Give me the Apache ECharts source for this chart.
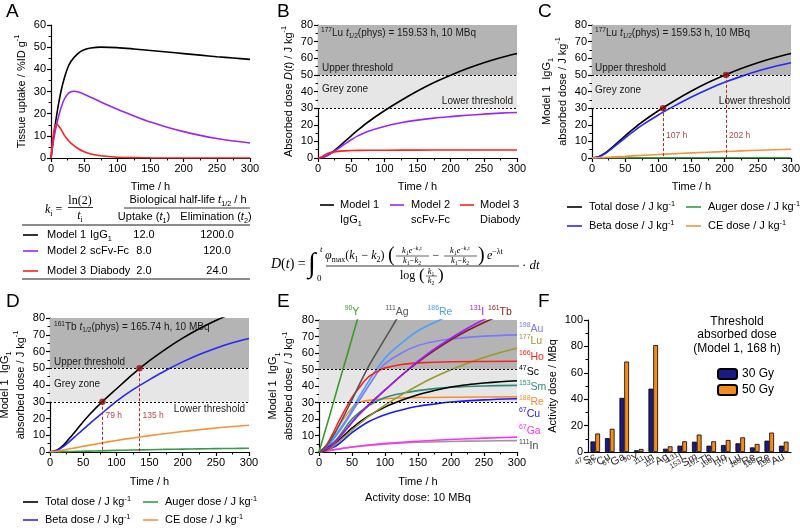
<!DOCTYPE html>
<html><head><meta charset="utf-8">
<script src="https://cdn.jsdelivr.net/npm/echarts@6/dist/echarts.min.js"></script>
<style>html,body{margin:0;padding:0;background:#fff}#c{width:800px;height:528px}</style>
</head><body><div id="c"></div><script>
const FONT = 'Liberation Sans, Arial, sans-serif';
const MATH = 'Liberation Serif, DejaVu Serif, serif';

// ---------- Panel A : tissue uptake ----------
const aM1Time = [0,5,10,15,20,25,30,40,50,60,75,100,125,150,175,200,225,250,275,300];
const aM1Uptake = [0,12,22,30,36,40.5,43.5,47,48.8,49.6,50,49.8,49.2,48.5,47.8,47.1,46.4,45.7,45.1,44.5];
const aM2Time = [0,5,10,15,20,25,30,35,40,50,75,100,125,150,175,200,225,250,275,300];
const aM2Uptake = [0,10,17,22.5,26.5,28.8,29.9,30.1,29.9,28.8,25.3,22,19,16.2,13.9,11.9,10.2,8.8,7.7,6.8];
const aM3Time = [0,2,4,6,8,10,15,20,25,30,40,50,60,75,100,125,150,200,250,300];
const aM3Uptake = [0,7,11.5,14.3,15.3,15,13,10.3,8.3,6.7,4.4,2.8,1.8,1,0.35,0.15,0.05,0,0,0];
const tableModels = ['Model 1','Model 2','Model 3'];
const tableFormats = ['IgG{sub|1}','scFv-Fc','Diabody'];
const tableUptake = ['12.0','8.0','2.0'];
const tableElim = ['1200.0','120.0','24.0'];

// ---------- Panel B : absorbed dose, 177Lu ----------
const bTime = [0,10,20,30,40,50,60,75,100,125,150,175,200,225,250,275,300];
const bModel1 = [0,0.8,3,6.3,9.8,13.3,16.7,21.5,28.4,34.6,40.3,45.4,49.8,53.8,57.3,60.3,62.9];
const bModel2 = [0,0.8,2.8,5.5,8.3,11,13.3,16,19,21.2,22.8,24,24.9,25.7,26.4,27,27.4];
const bM3Time = [0,5,10,15,20,30,40,50,75,100,150,200,300];
const bModel3 = [0,0.6,1.8,2.8,3.4,4,4.3,4.5,4.65,4.7,4.75,4.78,4.8];
const thresholdDoses = [30, 50];

// ---------- Panel C : Model 1, 177Lu components ----------
const cTime = [0,10,20,30,40,50,60,75,100,125,150,175,200,225,250,275,300];
const cTotal = [0,0.8,3,6.3,9.8,13.3,16.7,21.5,28.4,34.6,40.3,45.4,49.8,53.8,57.3,60.3,62.9];
const cBeta = [0,0.7,2.7,5.7,8.9,12.1,15.2,19.6,25.9,31.5,36.7,41.4,45.5,49.1,52.3,55,57.3];
const cCE = [0,0.15,0.35,0.6,0.8,1,1.25,1.55,2.1,2.6,3.1,3.5,3.9,4.3,4.65,5,5.3];
const cAuger = [0,0,0.01,0.02,0.03,0.04,0.05,0.06,0.08,0.1,0.12,0.13,0.15,0.16,0.17,0.18,0.19];
const cThresholdTimes = [107, 202];
const cLabelDose = [13.6, 13.6];

// ---------- Panel D : Model 1, 161Tb components ----------
const dTime = [0,10,20,30,40,50,60,75,100,125,150,175,200,225,250,275,300];
const dTotal = [0,1,4,8.5,13.2,18,22.5,28.6,37.6,46.5,54.5,61.6,68,73.6,78.5,82.8,86.6];
const dBeta = [0,0.8,3.2,6.5,10,13.5,17,22,30.2,37.2,43.2,48.8,53.8,58.2,62,65.2,67.8];
const dCE = [0,0.4,1.1,1.9,2.6,3.4,4.1,5.2,6.9,8.4,9.8,11,12.2,13.3,14.3,15.2,16];
const dAuger = [0,0.05,0.15,0.25,0.35,0.45,0.55,0.7,0.95,1.15,1.35,1.55,1.7,1.85,2,2.1,2.2];
const dThresholdTimes = [79, 135];
const dLabelDose = [21.5, 21.5];

// ---------- Panel E : Model 1, radionuclides, 10 MBq ----------
const eY90Time = [0,15,30,45,58,65];
const eY90Dose = [0,20.5,41.5,62,80,89];
const eAg111Time = [0,12,24,36,48,60,74,90,105,117,130];
const eAg111Dose = [0,4,11.5,20.5,30,40,51,62,72,80,88];
const eRe186Time = [0,15,30,45,56,70,87,105,125,150,183,200];
const eRe186Dose = [0,5,13,22,30,39.5,50,59,66,73.5,80,83];
const eI131Time = [0,20,40,60,80,100,135,150,175,200,225,250,270];
const eI131Dose = [0,4,13,22.5,30,37.5,50,55,62.5,69,75,80.3,84];
const eTb161Time = [0,10,20,30,40,50,60,75,100,125,150,175,200,225,250,275,300];
const eTb161Dose = [0,1,4,8.5,13.2,18,22.5,28.6,37.6,46.5,54.5,61.6,68,73.6,78.5,82.8,86.6];
const eAu198Time = [0,15,30,45,59,75,90,100,125,150,175,200,250,300];
const eAu198Dose = [0,4.5,12,21,30,40,49,53.5,60,64.5,67,68.5,70.2,71];
const eLu177Time = [0,10,20,30,40,50,60,75,100,125,150,175,200,225,250,275,300];
const eLu177Dose = [0,0.8,3,6.3,9.8,13.3,16.7,21.5,28.4,34.6,40.3,45.4,49.8,53.8,57.3,60.3,62.9];
const eHo166Time = [0,10,20,30,40,50,60,75,94,100,125,150,200,300];
const eHo166Dose = [0,3.5,10.5,18.5,26,33,38.5,45.5,50,51,53,54,54.7,55];
const eSc47Time = [0,25,50,75,100,125,150,175,200,225,250,275,300];
const eSc47Dose = [0,5.5,14.5,21.8,27.2,31.3,34.7,37.3,39.4,40.8,41.8,42.6,43.2];
const eSm153Time = [0,25,50,75,100,125,150,175,200,250,300];
const eSm153Dose = [0,7,20,28,33,35.5,37.2,38.4,39.2,40,40.4];
const eRe188Time = [0,10,20,30,40,52,60,75,100,150,200,300];
const eRe188Dose = [0,3,9,15.5,21.5,27.7,29.8,31.3,32.3,33,33.2,33.4];
const eCu67Time = [0,25,50,75,100,125,150,175,200,250,300];
const eCu67Dose = [0,3.5,11.7,18.3,22.6,25.5,27.7,29.1,30.3,31.6,32.3];
const eGa67Time = [0,25,50,75,100,150,200,250,300];
const eGa67Dose = [0,1.5,3,4.2,5.1,6.5,7.6,8.4,9];
const eIn111Time = [0,25,50,75,100,150,200,250,300];
const eIn111Dose = [0,1.5,3,4,4.9,5.9,6.4,6.7,6.9];
const eTopLabels = ['90Y','111Ag','186Re','131I','161Tb'];
const eRightLabels = ['198Au','177Lu','166Ho','47Sc','153Sm','188Re','67Cu','67Ga','111In'];

// ---------- Panel F : activity for threshold dose ----------
const fIsotopes = ['47Sc','67Cu','67Ga','90Y','111In','111Ag','131I','153Sm','161Tb','166Ho','177Lu','186Re','188Re','198Au'];
const fDose30 = [8,10.5,41,1.3,48,2.5,4.8,7.8,4.8,5.3,6.6,3.5,8.6,4.8];
const fDose50 = [14,17.6,68.5,2.3,81,4.3,8.1,13.2,8.1,9.1,11.1,6.1,14.7,7.8];
const fLegend = ['30 Gy','50 Gy'];

// ================= helpers =================
function richSet(fs, color, family) {
  family = family || FONT; color = color || '#000';
  const sfs = Math.round(fs * 0.66 * 10) / 10;
  return {
    sup: {fontSize: sfs, lineHeight: sfs + 1, verticalAlign: 'top', color: color, fill: color, fontFamily: family},
    sub: {fontSize: sfs, lineHeight: sfs + 1, verticalAlign: 'bottom', color: color, fill: color, fontFamily: family},
    i: {fontStyle: 'italic', fontSize: fs, color: color, fill: color, fontFamily: family},
    n: {fontSize: fs, lineHeight: Math.round(fs * 1.3), color: color, fill: color, fontFamily: family}
  };
}
function txt(x, y, text, o) {
  o = o || {};
  const fs = o.fontSize || 11, fill = o.fill || '#000', fam = o.fontFamily || FONT;
  return {type: 'text', x: x, y: y, silent: true, z: 100,
    style: {text: text, fill: fill, fontSize: fs, fontFamily: fam, fontStyle: o.fontStyle || 'normal',
      align: o.align || 'left', verticalAlign: 'middle', lineHeight: o.lineHeight || Math.round(fs * 1.3),
      rich: richSet(fs, fill, fam)}};
}
function ln(x1, y1, x2, y2, color, w) {
  return {type: 'line', silent: true, z: 100, shape: {x1: x1, y1: y1, x2: x2, y2: y2},
    style: {stroke: color || '#000', lineWidth: w || 1}};
}
function pairs(t, v) { return t.map((x, i) => [x, v[i]]); }
function isoRich(s) { return s.replace(/^(\d+)(.*)$/, '{sup|$1}$2'); }
function isoRichN(s) { return s.replace(/^(\d+)(.*)$/, '{sup|$1}{n|$2}'); }

function xAx(gi, name, gap, extra) {
  return Object.assign({
    type: 'value', gridIndex: gi, min: 0, max: 300, interval: 50,
    axisLine: {show: true, onZero: false, lineStyle: {color: '#000', width: 1.2}},
    axisTick: {show: true, inside: false, length: 4, lineStyle: {color: '#000', width: 1.2}},
    minorTick: {show: true, splitNumber: 2, length: 2.5, lineStyle: {color: '#000', width: 1}},
    splitLine: {show: false}, minorSplitLine: {show: false},
    axisLabel: {color: '#000', fontSize: 11, fontFamily: FONT, margin: 5},
    name: name, nameLocation: 'middle', nameGap: gap,
    nameTextStyle: {color: '#000', fontSize: 11, fontFamily: FONT, lineHeight: 16, rich: richSet(11)}
  }, extra || {});
}
function yAx(gi, max, interval, name, gap, extra) {
  return Object.assign({
    type: 'value', gridIndex: gi, min: 0, max: max, interval: interval,
    axisLine: {show: true, onZero: false, lineStyle: {color: '#000', width: 1.2}},
    axisTick: {show: true, inside: false, length: 4, lineStyle: {color: '#000', width: 1.2}},
    minorTick: {show: true, splitNumber: 2, length: 2.5, lineStyle: {color: '#000', width: 1}},
    splitLine: {show: false}, minorSplitLine: {show: false},
    axisLabel: {color: '#000', fontSize: 11, fontFamily: FONT, margin: 5},
    name: name, nameLocation: 'middle', nameGap: gap, nameRotate: 90,
    nameTextStyle: {color: '#000', fontSize: 11, fontFamily: FONT, lineHeight: 16, rich: richSet(11)}
  }, extra || {});
}
function lineS(name, gi, data, color, width, extra) {
  return Object.assign({
    type: 'line', name: name, xAxisIndex: gi, yAxisIndex: gi, data: data,
    showSymbol: false, symbol: 'none', smooth: 0.3, clip: true,
    lineStyle: {color: color, width: width || 1.6}, itemStyle: {color: color},
    z: 3, animation: false, silent: true
  }, extra || {});
}
const zones = {
  silent: true,
  itemStyle: {color: '#b4b4b4'},
  data: [
    [{yAxis: thresholdDoses[1]}, {yAxis: 80}],
    [{yAxis: thresholdDoses[0], itemStyle: {color: '#e6e6e6'}}, {yAxis: thresholdDoses[1]}]
  ]
};
const dotted = {
  silent: true, symbol: 'none', label: {show: false},
  lineStyle: {type: [2, 2], color: '#000', width: 1},
  data: thresholdDoses.map(v => ({yAxis: v}))
};
function thresholdPoints(gi, times, labY) {
  return [{
    type: 'scatter', xAxisIndex: gi, yAxisIndex: gi, silent: true, animation: false, z: 6,
    data: times.map((t, i) => [t, thresholdDoses[i]]),
    symbolSize: 6.5, itemStyle: {color: '#8e1010'},
    markLine: {silent: true, symbol: 'none', label: {show: false},
      lineStyle: {type: [3, 2], color: '#b52525', width: 1},
      data: times.map((t, i) => [{coord: [t, thresholdDoses[i]]}, {coord: [t, 0]}])}
  }, {
    type: 'scatter', xAxisIndex: gi, yAxisIndex: gi, silent: true, animation: false, z: 6,
    data: times.map((t, i) => [t, labY[i]]), symbolSize: 0.01,
    label: {show: true, position: 'right', distance: 3, formatter: p => p.value[0] + ' h',
      fontSize: 8.5, fontFamily: FONT, color: '#a01818'}
  }];
}

// ================= series =================
const series = [];
// A
series.push(lineS('M1', 0, pairs(aM1Time, aM1Uptake), '#000'));
series.push(lineS('M2', 0, pairs(aM2Time, aM2Uptake), '#9b27f5'));
series.push(lineS('M3', 0, pairs(aM3Time, aM3Uptake), '#ff2020'));
// B
series.push(lineS('B1', 1, pairs(bTime, bModel1), '#000', 1.6, {markArea: zones, markLine: dotted}));
series.push(lineS('B2', 1, pairs(bTime, bModel2), '#9b27f5'));
series.push(lineS('B3', 1, pairs(bM3Time, bModel3), '#ff2020'));
// C
series.push(lineS('C1', 2, pairs(cTime, cTotal), '#000', 1.6, {markArea: zones, markLine: dotted}));
series.push(lineS('C2', 2, pairs(cTime, cBeta), '#2626ff'));
series.push(lineS('C3', 2, pairs(cTime, cAuger), '#3a9a4a'));
series.push(lineS('C4', 2, pairs(cTime, cCE), '#f5923a'));
thresholdPoints(2, cThresholdTimes, cLabelDose).forEach(s => series.push(s));
// D
series.push(lineS('D1', 3, pairs(dTime, dTotal), '#000', 1.6, {markArea: zones, markLine: dotted}));
series.push(lineS('D2', 3, pairs(dTime, dBeta), '#2626ff'));
series.push(lineS('D3', 3, pairs(dTime, dAuger), '#3a9a4a'));
series.push(lineS('D4', 3, pairs(dTime, dCE), '#f5923a'));
thresholdPoints(3, dThresholdTimes, dLabelDose).forEach(s => series.push(s));
// E
const eColors = {
  '90Y': '#3a9a2a', '111Ag': '#555555', '186Re': '#4d9dff', '131I': '#9b1fff', '161Tb': '#8b1a1a',
  '198Au': '#7a78ff', '177Lu': '#9a9a2a', '166Ho': '#ff2020', '47Sc': '#000000', '153Sm': '#2e8b78',
  '188Re': '#ff8c2a', '67Cu': '#1a1aff', '67Ga': '#ff30ff', '111In': '#999999'
};
series.push(lineS('In111', 4, pairs(eIn111Time, eIn111Dose), eColors['111In'], 1.6, {markArea: zones, markLine: dotted}));
series.push(lineS('Ga67', 4, pairs(eGa67Time, eGa67Dose), eColors['67Ga']));
series.push(lineS('Cu67', 4, pairs(eCu67Time, eCu67Dose), eColors['67Cu']));
series.push(lineS('Re188', 4, pairs(eRe188Time, eRe188Dose), eColors['188Re']));
series.push(lineS('Sm153', 4, pairs(eSm153Time, eSm153Dose), eColors['153Sm']));
series.push(lineS('Sc47', 4, pairs(eSc47Time, eSc47Dose), eColors['47Sc']));
series.push(lineS('Lu177', 4, pairs(eLu177Time, eLu177Dose), eColors['177Lu']));
series.push(lineS('Au198', 4, pairs(eAu198Time, eAu198Dose), eColors['198Au']));
series.push(lineS('Re186', 4, pairs(eRe186Time, eRe186Dose), eColors['186Re']));
series.push(lineS('Ho166', 4, pairs(eHo166Time, eHo166Dose), eColors['166Ho']));
series.push(lineS('Tb161', 4, pairs(eTb161Time, eTb161Dose), eColors['161Tb']));
series.push(lineS('I131', 4, pairs(eI131Time, eI131Dose), eColors['131I']));
series.push(lineS('Ag111', 4, pairs(eAg111Time, eAg111Dose), eColors['111Ag']));
series.push(lineS('Y90', 4, pairs(eY90Time, eY90Dose), eColors['90Y']));
// F
series.push({type: 'bar', name: fLegend[0], xAxisIndex: 5, yAxisIndex: 5, data: fDose30, barWidth: 4.8, barGap: '0%',
  itemStyle: {color: '#1b1b86', borderColor: '#000', borderWidth: 0.8}, animation: false, silent: true});
series.push({type: 'bar', name: fLegend[1], xAxisIndex: 5, yAxisIndex: 5, data: fDose50, barWidth: 4.8, barGap: '0%',
  itemStyle: {color: '#f58a1f', borderColor: '#000', borderWidth: 0.8}, animation: false, silent: true});

// ================= graphics =================
const G = [];
[['A', 6, 12], ['B', 277, 12], ['C', 538, 12], ['D', 6, 302], ['E', 277, 302], ['F', 538, 302]]
  .forEach(p => G.push(txt(p[1], p[2], p[0], {fontSize: 19})));

// Table in A
G.push(txt(45, 210, '{i|k}{sub|i} = ', {fontSize: 12, fontFamily: MATH}));
G.push(txt(80, 201, 'ln(2)', {fontSize: 12, fontFamily: MATH, align: 'center'}));
G.push(ln(68, 207.5, 93, 207.5, '#000', 0.8));
G.push(txt(80, 216, '{i|t}{sub|i}', {fontSize: 12, fontFamily: MATH, align: 'center'}));
G.push(txt(188, 200, 'Biological half-life {i|t}{sub|1/2} / h', {align: 'center'}));
G.push(ln(124, 208, 250, 208, '#000', 0.8));
G.push(txt(144, 217, 'Uptake ({i|t}{sub|1})', {align: 'center'}));
G.push(txt(216, 217, 'Elimination ({i|t}{sub|2})', {align: 'center'}));
G.push(ln(22, 225, 250, 225, '#000', 0.9));
const rowY = [235, 251, 271];
const rowCol = ['#000', '#9b27f5', '#ff2020'];
tableModels.forEach((m, i) => {
  G.push(ln(23, rowY[i], 38, rowY[i], rowCol[i], 1.6));
  G.push(txt(47, rowY[i], m));
  G.push(txt(90, rowY[i], tableFormats[i]));
  G.push(txt(144, rowY[i], tableUptake[i], {align: 'center'}));
  G.push(txt(217, rowY[i], tableElim[i], {align: 'center'}));
});
G.push(ln(22, 279, 250, 279, '#000', 0.9));

// B annotations + legend
const AN = {fontSize: 10, fill: '#1a1a1a'};
G.push(txt(321, 33, '{sup|177}Lu {i|t}{sub|1/2}(phys) = 159.53 h, 10 MBq', AN));
G.push(txt(322, 68, 'Upper threshold', AN));
G.push(txt(322, 89, 'Grey zone', AN));
G.push(txt(513, 101, 'Lower threshold', Object.assign({align: 'right'}, AN)));
const bLeg = [['Model 1', 'IgG{sub|1}', '#000', 320, 340], ['Model 2', 'scFv-Fc', '#9b27f5', 390, 411], ['Model 3', 'Diabody', '#ff2020', 460, 480]];
bLeg.forEach(l => {
  G.push(ln(l[3], 205, l[3] + 14, 205, l[2], 1.6));
  G.push(txt(l[4], 205, l[0]));
  G.push(txt(l[4], 220, l[1]));
});

// Equation
const EQ = {fontFamily: MATH};
G.push(txt(271, 264, '{i|D}({i|t}) =', Object.assign({fontSize: 14}, EQ)));
G.push(txt(308, 265, '∫', Object.assign({fontSize: 28}, EQ)));
G.push(txt(320, 250, '{i|t}', Object.assign({fontSize: 9}, EQ)));
G.push(txt(317, 279, '0', Object.assign({fontSize: 9}, EQ)));
G.push(txt(325, 256, '{i|φ}{sub|max}({i|k}{sub|1} − {i|k}{sub|2})', Object.assign({fontSize: 12}, EQ)));
G.push(txt(388, 256, '(', Object.assign({fontSize: 20}, EQ)));
G.push(txt(412, 251, '{i|k}{sub|1}{i|e}{sup|−k₂t}', Object.assign({fontSize: 8.5, align: 'center'}, EQ)));
G.push(ln(396, 256, 429, 256, '#000', 0.6));
G.push(txt(412, 261, '{i|k}{sub|1}−{i|k}{sub|2}', Object.assign({fontSize: 8.5, align: 'center'}, EQ)));
G.push(txt(436, 256, '−', Object.assign({fontSize: 12, align: 'center'}, EQ)));
G.push(txt(460, 251, '{i|k}{sub|1}{i|e}{sup|−k₁t}', Object.assign({fontSize: 8.5, align: 'center'}, EQ)));
G.push(ln(444, 256, 477, 256, '#000', 0.6));
G.push(txt(460, 261, '{i|k}{sub|1}−{i|k}{sub|2}', Object.assign({fontSize: 8.5, align: 'center'}, EQ)));
G.push(txt(478, 256, ')', Object.assign({fontSize: 20}, EQ)));
G.push(txt(487, 256, '{i|e}{sup|−λt}', Object.assign({fontSize: 12}, EQ)));
G.push(ln(326, 266, 519, 266, '#000', 0.8));
G.push(txt(400, 276, 'log', Object.assign({fontSize: 12}, EQ)));
G.push(txt(419, 276, '(', Object.assign({fontSize: 17}, EQ)));
G.push(txt(431, 272, '{i|k}{sub|1}', Object.assign({fontSize: 8.5, align: 'center'}, EQ)));
G.push(ln(426, 276, 437, 276, '#000', 0.6));
G.push(txt(431, 281, '{i|k}{sub|2}', Object.assign({fontSize: 8.5, align: 'center'}, EQ)));
G.push(txt(438, 276, ')', Object.assign({fontSize: 17}, EQ)));
G.push(txt(522, 266, '· {i|dt}', Object.assign({fontSize: 13}, EQ)));

// C annotations + legend
G.push(txt(595, 33, '{sup|177}Lu {i|t}{sub|1/2}(phys) = 159.53 h, 10 MBq', AN));
G.push(txt(595, 68, 'Upper threshold', AN));
G.push(txt(595, 90, 'Grey zone', AN));
G.push(txt(790, 101, 'Lower threshold', Object.assign({align: 'right'}, AN)));
function compLegend(x1, x2, y1, y2) {
  const items = [['Total dose / J kg{sup|-1}', '#000', x1, y1], ['Beta dose / J kg{sup|-1}', '#2626ff', x1, y2],
                 ['Auger dose / J kg{sup|-1}', '#3a9a4a', x2, y1], ['CE dose / J kg{sup|-1}', '#f5923a', x2, y2]];
  items.forEach(it => {
    G.push(ln(it[2], it[3], it[2] + 15, it[3], it[1], 1.6));
    G.push(txt(it[2] + 22, it[3], it[0]));
  });
}
compLegend(567, 686, 207, 226);

// D annotations + legend
G.push(txt(54, 327, '{sup|161}Tb {i|t}{sub|1/2}(phys) = 165.74 h, 10 MBq', AN));
G.push(txt(54, 362, 'Upper threshold', AN));
G.push(txt(54, 384, 'Grey zone', AN));
G.push(txt(245, 409, 'Lower threshold', Object.assign({align: 'right'}, AN)));
compLegend(23, 143, 502, 520);

// E labels
const eTopX = [352, 397, 440, 477, 500];
eTopLabels.forEach((s, i) => G.push(txt(eTopX[i], 312, isoRich(s), {fontSize: 10.5, align: 'center', fill: eColors[s]})));
const eRightY = [329, 341, 357, 372, 387, 402, 414, 431, 446];
const eRightCol = {'111In': '#444'};
eRightLabels.forEach((s, i) => G.push(txt(519, eRightY[i], isoRich(s), {fontSize: 10.5, fill: eRightCol[s] || eColors[s]})));

// F legend title
G.push(txt(737, 335, 'Threshold\nabsorbed dose\n(Model 1, 168 h)', {fontSize: 12, align: 'center', lineHeight: 13.5}));

// ================= option =================
const option = {
  backgroundColor: '#fff',
  animation: false,
  textStyle: {fontFamily: FONT},
  grid: [
    {left: 51, top: 25, width: 199, height: 133},
    {left: 318, top: 25, width: 199, height: 133},
    {left: 592, top: 25, width: 199, height: 133},
    {left: 50, top: 318, width: 199, height: 134},
    {left: 319, top: 320, width: 198, height: 132},
    {left: 588, top: 320, width: 203, height: 132}
  ].map(g => Object.assign(g, {containLabel: false, outerBoundsMode: 'none'})),
  xAxis: [
    xAx(0, 'Time / h', 21),
    xAx(1, 'Time / h', 21),
    xAx(2, 'Time / h', 21),
    xAx(3, 'Time / h', 22),
    xAx(4, 'Time / h\nActivity dose: 10 MBq', 22),
    {type: 'category', gridIndex: 5, data: fIsotopes,
     axisLine: {show: true, lineStyle: {color: '#000', width: 1.2}}, axisTick: {show: false},
     axisLabel: {interval: 0, rotate: 30, margin: 4, fontSize: 11, color: '#333', fontFamily: FONT,
       formatter: v => isoRichN(v), rich: richSet(11, '#333')}}
  ],
  yAxis: [
    yAx(0, 60, 10, 'Tissue uptake / %ID g{sup|-1}', 20),
    yAx(1, 80, 10, 'Absorbed dose {i|D}({i|t}) / J kg{sup|-1}', 20),
    yAx(2, 80, 10, 'Model 1  IgG{sub|1}\nabsorbed dose / J kg{sup|-1}', 20),
    yAx(3, 80, 10, 'Model 1  IgG{sub|1}\nabsorbed dose / J kg{sup|-1}', 20),
    yAx(4, 80, 10, 'Model 1  IgG{sub|1}\nabsorbed dose / J kg{sup|-1}', 22),
    yAx(5, 100, 20, 'Activity dose / MBq', 23)
  ],
  legend: {
    data: fLegend, orient: 'vertical', left: 712, top: 363, itemWidth: 19, itemHeight: 10, itemGap: 4,
    selectedMode: false, textStyle: {fontSize: 12, color: '#000', fontFamily: FONT}
  },
  series: series,
  graphic: {elements: G}
};
const chart = echarts.init(document.getElementById('c'), null, {renderer: 'canvas'});
chart.setOption(option);
</script></body></html>
